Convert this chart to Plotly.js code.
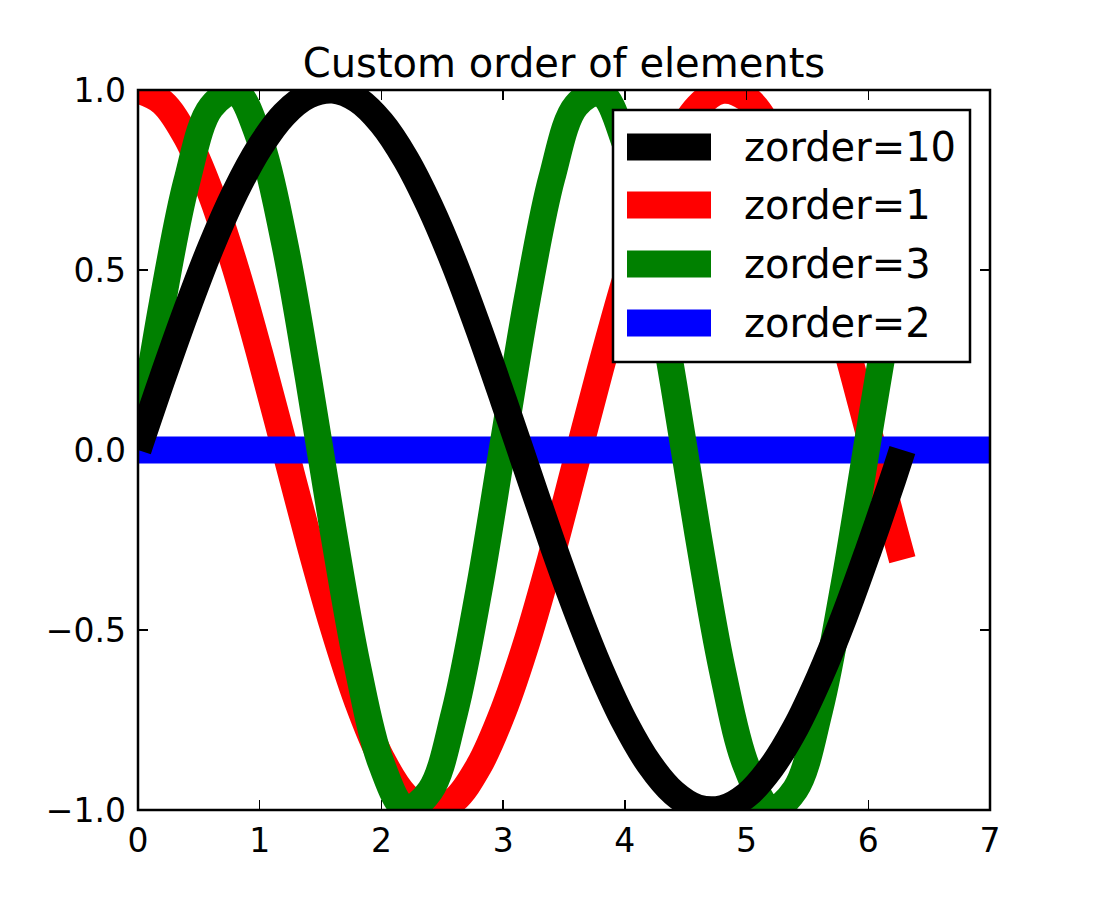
<!DOCTYPE html>
<html>
<head>
<meta charset="utf-8">
<script src="https://cdn.plot.ly/plotly-3.0.1.min.js"></script>
<style>html,body{margin:0;padding:0;background:#fff;}#chart{width:1100px;height:900px;}</style>
</head>
<body>
<div id="chart"></div>
<script>
// x positions of the read-off points
const xValues = [0.0,0.2,0.4,0.6,0.8,1.0,1.2,1.4,1.6,1.8,2.0,2.2,2.4,2.6,2.8,3.0,3.2,3.4,3.6,3.8,4.0,4.2,4.4,4.6,4.8,5.0,5.2,5.4,5.6,5.8,6.0,6.2,6.28];
// black series (zorder=10)
const blackY = [0.0,0.199,0.389,0.565,0.717,0.841,0.932,0.985,1.0,0.974,0.909,0.808,0.675,0.516,0.335,0.141,-0.058,-0.256,-0.443,-0.612,-0.757,-0.872,-0.952,-0.994,-0.996,-0.959,-0.883,-0.773,-0.631,-0.465,-0.279,-0.083,0.0];
// red series (zorder=1)
const redY = [1.0,0.966,0.868,0.711,0.506,0.267,0.011,-0.247,-0.487,-0.695,-0.857,-0.961,-1.0,-0.972,-0.878,-0.726,-0.527,-0.290,-0.032,0.226,0.468,0.680,0.846,0.954,0.999,0.977,0.888,0.740,0.543,0.308,0.054,-0.205,-0.305];
// green series (zorder=3)
const greenY = [0.0,0.408,0.745,0.952,0.994,0.863,0.582,0.200,-0.216,-0.595,-0.872,-0.996,-0.946,-0.730,-0.392,0.017,0.423,0.756,0.957,0.992,0.854,0.567,0.184,-0.233,-0.610,-0.880,-0.997,-0.943,-0.722,-0.376,0.034,0.438,0.583];
// horizontal line (zorder=2)
const hlineX = [0, 7];
const hlineY = [0, 0];
const labels = ['zorder=10','zorder=1','zorder=3','zorder=2'];
const zorders = [10, 1, 3, 2];
const colors = ['#000000','#ff0000','#008000','#0000ff'];

const LW = 27;
const data = [
  {x:xValues, y:blackY, name:labels[0], zorder:zorders[0]},
  {x:xValues, y:redY, name:labels[1], zorder:zorders[1]},
  {x:xValues, y:greenY, name:labels[2], zorder:zorders[2]},
  {x:hlineX, y:hlineY, name:labels[3], zorder:zorders[3]}
].map((t,i)=>Object.assign(t,{type:'scatter', mode:'lines', showlegend:false, line:{color:colors[i], width:LW, shape: i<3?'spline':'linear'}}));

const font = 'DejaVu Sans, sans-serif';
const axisCommon = {
  showline:true, linecolor:'#000', linewidth:2.5, mirror:'ticks',
  ticks:'inside', ticklen:10, tickwidth:1.5, tickcolor:'#000',
  showgrid:false, zeroline:false,
  tickfont:{family:font, size:33, color:'#000'}
};

// plot area in pixels (for placing the drawn legend box)
const PL = 138, PR = 990, PT = 90, PB = 810;
const px = v => (v - PL) / (PR - PL);
const py = v => (PB - v) / (PB - PT);

const shapes = [
  {type:'rect', xref:'paper', yref:'paper', x0:0, x1:1, y0:0, y1:1, line:{color:'#000', width:2.5}, fillcolor:'rgba(0,0,0,0)', layer:'above'},
  {type:'rect', xref:'paper', yref:'paper', x0:px(613), x1:px(970), y0:py(362), y1:py(110), line:{color:'#000', width:2.5}, fillcolor:'#fff', layer:'above'}
];
const annotations = [];
const rowY = [147, 205, 264, 323];
labels.forEach((lab, i) => {
  shapes.push({type:'line', xref:'paper', yref:'paper', x0:px(627), x1:px(711), y0:py(rowY[i]), y1:py(rowY[i]), line:{color:colors[i], width:LW}, layer:'above'});
  annotations.push({text:lab, xref:'paper', yref:'paper', x:px(742), y:py(rowY[i]), xanchor:'left', yanchor:'middle', showarrow:false, font:{family:font, size:40, color:'#000'}});
});

const layout = {
  width:1100, height:900,
  margin:{l:PL, r:1100-PR, t:PT, b:900-PB},
  paper_bgcolor:'#fff', plot_bgcolor:'#fff',
  title:{text:'Custom order of elements', font:{family:font, size:40, color:'#000'}, x:0.5, xref:'paper', y:1-63/900, yref:'container', yanchor:'middle'},
  xaxis:Object.assign({}, axisCommon, {range:[0,7], dtick:1, tick0:0, ticklabelstandoff:0}),
  yaxis:Object.assign({}, axisCommon, {range:[-1,1], dtick:0.5, tick0:0, tickformat:'.1f', ticklabelstandoff:3}),
  showlegend:false,
  shapes:shapes,
  annotations:annotations
};
Plotly.newPlot('chart', data, layout, {displayModeBar:false, staticPlot:true});
</script>
</body>
</html>
